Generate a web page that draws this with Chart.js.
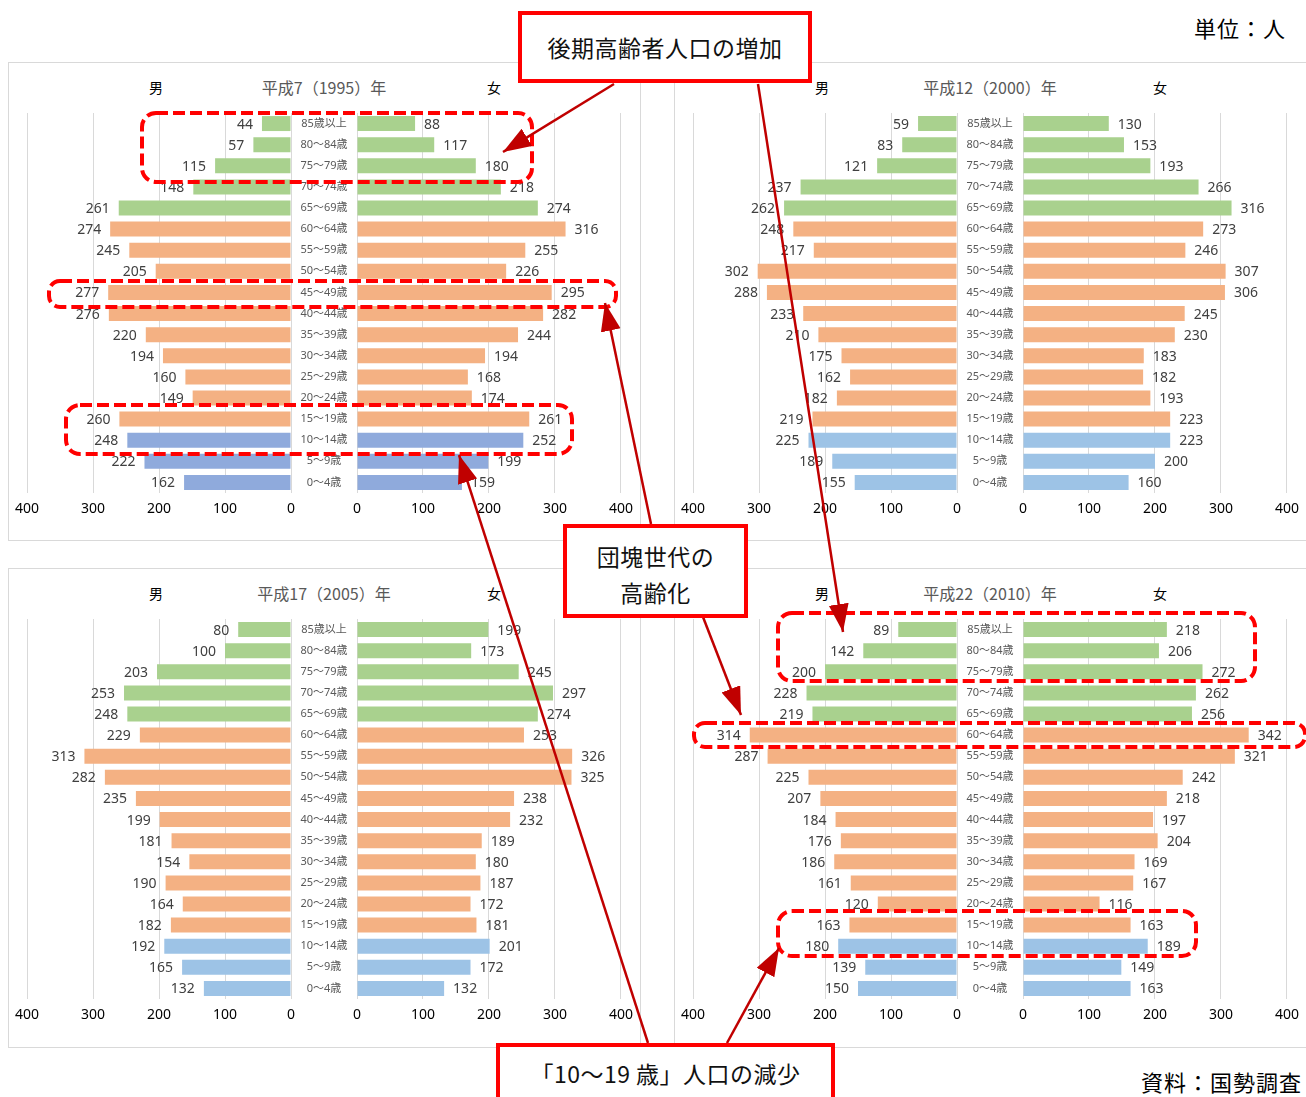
<!DOCTYPE html>
<html lang="ja">
<head>
<meta charset="utf-8">
<title>人口ピラミッド</title>
<script src="https://cdn.jsdelivr.net/npm/chart.js@4.4.1/dist/chart.umd.min.js"></script>
<style>
  html, body { margin: 0; padding: 0; }
  body {
    width: 1306px; height: 1097px; position: relative; overflow: hidden;
    background: #fff; font-family: "Noto Sans CJK JP", "Noto Sans", sans-serif;
  }
  .panel { position: absolute; border: 1px solid #d9d9d9; box-sizing: border-box; }
  .chartbox { position: absolute; }
  .title { position: absolute; width: 240px; text-align: center; font-size: 16px; line-height: 20px; color: #595959; }
  .sex { position: absolute; width: 30px; text-align: center; font-size: 14px; line-height: 20px; color: #000; }
  .callout {
    position: absolute; box-sizing: border-box; border: 4px solid #ff0000; background: #fff;
    font-size: 23px; color: #111; text-align: center; letter-spacing: 0.5px;
  }
  .note { position: absolute; font-size: 22px; line-height: 30px; letter-spacing: 1px; color: #000; }
  #overlay { position: absolute; left: 0; top: 0; pointer-events: none; }
</style>
</head>
<body>

<div class="note" style="left:1194px; top:12px;">単位：人</div>
<div class="note" style="left:1141px; top:1066px;">資料：国勢調査</div>

<div id="panels"></div>

<svg id="overlay" width="1306" height="1097" xmlns="http://www.w3.org/2000/svg">
  <defs>
    <marker id="head" markerUnits="userSpaceOnUse" markerWidth="30" markerHeight="22" refX="28" refY="10" orient="auto">
      <path d="M0,0 L28,10 L0,20 Z" fill="#c00000"/>
    </marker>
  </defs>
  <g fill="none" stroke="#ff0000" stroke-width="4" stroke-dasharray="12 5">
    <rect x="142" y="113" width="390" height="69" rx="14"/>
    <rect x="49" y="281" width="567" height="26" rx="11"/>
    <rect x="66" y="405" width="506" height="49" rx="14"/>
    <rect x="778" y="613" width="477" height="68" rx="14"/>
    <rect x="694" y="723" width="611" height="24" rx="11"/>
    <rect x="778" y="911" width="418" height="45" rx="14"/>
  </g>
  <g stroke="#c00000" stroke-width="2.5" marker-end="url(#head)">
    <line x1="614" y1="84" x2="503" y2="152"/>
    <line x1="758" y1="84" x2="843" y2="632"/>
    <line x1="651" y1="524" x2="605" y2="303"/>
    <line x1="703" y1="617" x2="741" y2="715"/>
    <line x1="648" y1="1043" x2="459" y2="455"/>
    <line x1="727" y1="1043" x2="779" y2="948"/>
  </g>
</svg>

<div class="callout" style="left:518px; top:11px; width:294px; height:72px; line-height:64px; padding-top:0px;">後期高齢者人口の増加</div>
<div class="callout" style="left:563px; top:524px; width:185px; height:94px; line-height:36px; padding-top:10px;">団塊世代の<br>高齢化</div>
<div class="callout" style="left:496px; top:1043px; width:339px; height:70px; line-height:30px; padding-top:11px;">「10～19 歳」人口の減少</div>

<script>
// age groups, top to bottom
const ageGroups = [
  "85歳以上", "80～84歳", "75～79歳", "70～74歳", "65～69歳", "60～64歳",
  "55～59歳", "50～54歳", "45～49歳", "40～44歳", "35～39歳", "30～34歳",
  "25～29歳", "20～24歳", "15～19歳", "10～14歳", "5～9歳", "0～4歳"
];

const yearTitles = ["平成7（1995）年", "平成12（2000）年", "平成17（2005）年", "平成22（2010）年"];

const male1995   = [44, 57, 115, 148, 261, 274, 245, 205, 277, 276, 220, 194, 160, 149, 260, 248, 222, 162];
const female1995 = [88, 117, 180, 218, 274, 316, 255, 226, 295, 282, 244, 194, 168, 174, 261, 252, 199, 159];

const male2000   = [59, 83, 121, 237, 262, 248, 217, 302, 288, 233, 210, 175, 162, 182, 219, 225, 189, 155];
const female2000 = [130, 153, 193, 266, 316, 273, 246, 307, 306, 245, 230, 183, 182, 193, 223, 223, 200, 160];

const male2005   = [80, 100, 203, 253, 248, 229, 313, 282, 235, 199, 181, 154, 190, 164, 182, 192, 165, 132];
const female2005 = [199, 173, 245, 297, 274, 253, 326, 325, 238, 232, 189, 180, 187, 172, 181, 201, 172, 132];

const male2010   = [89, 142, 200, 228, 219, 314, 287, 225, 207, 184, 176, 186, 161, 120, 163, 180, 139, 150];
const female2010 = [218, 206, 272, 262, 256, 342, 321, 242, 218, 197, 204, 169, 167, 116, 163, 189, 149, 163];

const xTicks = [0, 100, 200, 300, 400];

const FONT = '"Noto Sans", "Noto Sans CJK JP", sans-serif';
Chart.defaults.font.family = FONT;

const GREEN = "#a9d18e", ORANGE = "#f4b183";

// 65+ green, 15-64 orange, 0-14 blue
function barColors(blue) {
  return ageGroups.map((_, i) => i < 5 ? GREEN : (i < 15 ? ORANGE : blue));
}

function valueLabels(isMale) {
  return {
    id: "valueLabels",
    afterDatasetsDraw(chart) {
      const { ctx } = chart;
      const vals = chart.data.datasets[0].data;
      ctx.save();
      ctx.font = `14px ${FONT}`;
      ctx.fillStyle = "#404040";
      ctx.textBaseline = "middle";
      ctx.textAlign = isMale ? "right" : "left";
      chart.getDatasetMeta(0).data.forEach((bar, i) => {
        ctx.fillText(vals[i], bar.x + (isMale ? -9 : 9), bar.y + 1);
      });
      ctx.restore();
    }
  };
}

// age labels drawn in the gap between the two halves
const ageAxisLabels = {
  id: "ageAxisLabels",
  afterDraw(chart) {
    const { ctx, chartArea, scales } = chart;
    ctx.save();
    ctx.font = `11px ${FONT}`;
    ctx.fillStyle = "#595959";
    ctx.textAlign = "center";
    ctx.textBaseline = "middle";
    chart.data.labels.forEach((lab, i) => {
      ctx.fillText(lab, chartArea.left - 33, scales.y.getPixelForValue(i));
    });
    ctx.restore();
  }
};

function addDiv(cls, left, top, w, h, text) {
  const d = document.createElement("div");
  d.className = cls;
  d.style.left = left + "px";
  d.style.top = top + "px";
  if (w) d.style.width = w + "px";
  if (h) d.style.height = h + "px";
  if (text) d.textContent = text;
  document.getElementById("panels").appendChild(d);
  return d;
}

function makeHalf(left, top, width, values, isMale, blue) {
  const box = addDiv("chartbox", left, top, width, 432);
  const canvas = document.createElement("canvas");
  box.appendChild(canvas);

  new Chart(canvas, {
    type: "bar",
    data: {
      labels: ageGroups,
      datasets: [{
        data: values,
        backgroundColor: barColors(blue),
        barPercentage: 0.71,
        categoryPercentage: 1
      }]
    },
    options: {
      indexAxis: "y",
      responsive: true,
      maintainAspectRatio: false,
      animation: false,
      layout: { padding: { top: 12, bottom: 0, left: isMale ? 20 : 66, right: 20 } },
      plugins: { legend: { display: false }, tooltip: { enabled: false } },
      scales: {
        x: {
          reverse: isMale,
          min: xTicks[0],
          max: xTicks[xTicks.length - 1],
          afterBuildTicks: (s) => { s.ticks = xTicks.map(v => ({ value: v })); },
          afterFit: (s) => { s.height = 40; },
          ticks: { color: "#000", font: { size: 14 }, padding: 8 },
          grid: { color: "#d9d9d9", drawTicks: false },
          border: { display: false }
        },
        y: { display: false }
      }
    },
    plugins: isMale ? [valueLabels(true)] : [valueLabels(false), ageAxisLabels]
  });
}

function makePanel(ox, oy, title, male, female, blue) {
  addDiv("panel", 8 + ox, 62 + oy, ox ? 640 : 633, oy ? 480 : 479);
  addDiv("title", 204 + ox, 77 + oy, 0, 0, title);
  addDiv("sex", 141 + ox, 77 + oy, 0, 0, "男");
  addDiv("sex", 479 + ox, 77 + oy, 0, 0, "女");
  makeHalf(7 + ox, 101 + oy, 304, male, true, blue);
  makeHalf(291 + ox, 101 + oy, 350, female, false, blue);
}

makePanel(0, 0, yearTitles[0], male1995, female1995, "#8faadc");
makePanel(666, 0, yearTitles[1], male2000, female2000, "#9dc3e6");
makePanel(0, 506, yearTitles[2], male2005, female2005, "#9dc3e6");
makePanel(666, 506, yearTitles[3], male2010, female2010, "#9dc3e6");
</script>
</body>
</html>
